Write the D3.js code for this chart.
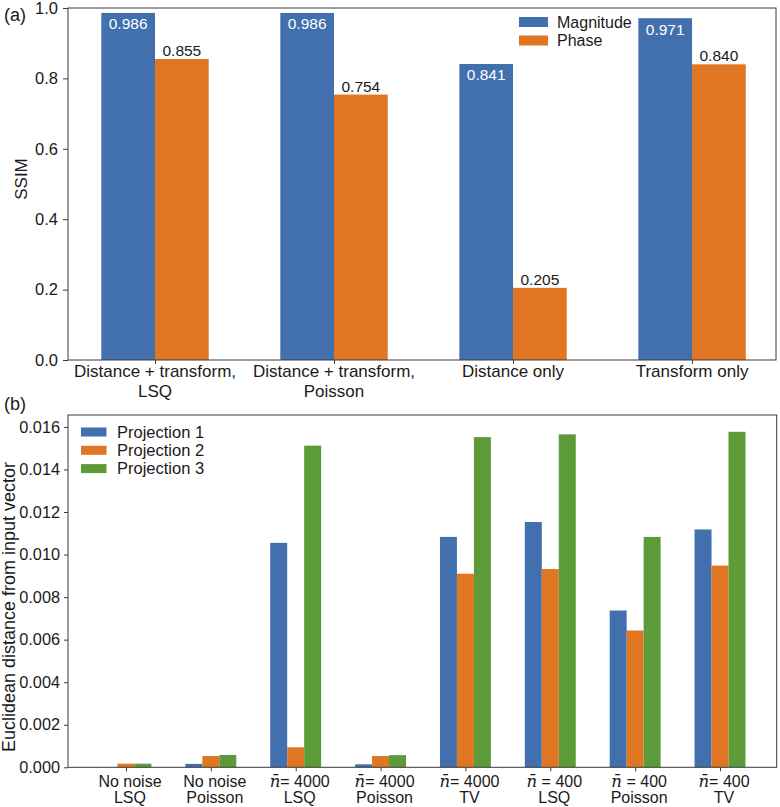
<!DOCTYPE html>
<html>
<head>
<meta charset="utf-8">
<script src="https://cdn.jsdelivr.net/npm/d3@7"></script>
<style>
  body { margin: 0; background: #fff; }
  svg { display: block; font-family: "Liberation Sans", Arial, Helvetica, sans-serif; }
</style>
</head>
<body>
<svg id="chart" width="780" height="807"></svg>
<script>
// ---------- Data: panel (a) ----------
const categoriesA = [["Distance + transform,", "LSQ"], ["Distance + transform,", "Poisson"], ["Distance only"], ["Transform only"]];
const magnitude = [0.986, 0.986, 0.841, 0.971];
const phase = [0.855, 0.754, 0.205, 0.840];
const seriesA = ["Magnitude", "Phase"];
const yTicksA = [0.0, 0.2, 0.4, 0.6, 0.8, 1.0];

// ---------- Data: panel (b) ----------
const categoriesB = [
  ["No noise", "LSQ"], ["No noise", "Poisson"],
  ["n̄= 4000", "LSQ"], ["n̄= 4000", "Poisson"], ["n̄= 4000", "TV"],
  ["n̄ = 400", "LSQ"], ["n̄ = 400", "Poisson"], ["n̄= 400", "TV"]
];
const projection1 = [0.00001, 0.00016, 0.01055, 0.00014, 0.01083, 0.01153, 0.00737, 0.01118];
const projection2 = [0.00017, 0.00053, 0.00094, 0.00053, 0.00910, 0.00932, 0.00643, 0.00948];
const projection3 = [0.00017, 0.00058, 0.01512, 0.00057, 0.01552, 0.01565, 0.01083, 0.01577];
const seriesB = ["Projection 1", "Projection 2", "Projection 3"];
const yTicksB = [0.000, 0.002, 0.004, 0.006, 0.008, 0.010, 0.012, 0.014, 0.016];

const colors = ["#426fae", "#e07522", "#5c9b37"];
const axisColor = "#3a3a3a";
const textColor = "#1a1a1a";

const svg = d3.select("#chart");

function styleAxis(g) {
  g.select(".domain").remove();
  g.selectAll(".tick line").attr("stroke", axisColor).attr("stroke-width", 1);
  g.selectAll(".tick text").attr("fill", textColor).attr("font-family", "'Liberation Sans', Arial, sans-serif");
}

// ================= Panel (a) =================
{
  const L = 68, R = 776, T = 8, B = 360;
  const x = d3.scaleLinear().domain([-0.486, 3.469]).range([L, R]);
  const y = d3.scaleLinear().domain([0, 1]).range([B, T]);
  const bw = 0.3;
  const g = svg.append("g");

  const data = [magnitude, phase];
  data.forEach((vals, s) => {
    g.append("g").selectAll("rect").data(vals).join("rect")
      .attr("x", (d, i) => x(i - bw + s * bw))
      .attr("width", x(bw) - x(0))
      .attr("y", d => y(d))
      .attr("height", d => y(0) - y(d))
      .attr("fill", colors[s]);
  });

  g.append("g").selectAll("text").data(magnitude).join("text")
    .attr("x", (d, i) => x(i - bw / 2))
    .attr("y", d => y(d) + 16.5)
    .attr("text-anchor", "middle")
    .attr("font-size", 15.5)
    .attr("fill", "#ffffff")
    .text(d => d3.format(".3f")(d));
  g.append("g").selectAll("text").data(phase).join("text")
    .attr("x", (d, i) => x(i + bw / 2))
    .attr("y", d => y(d) - 3)
    .attr("text-anchor", "middle")
    .attr("font-size", 15.5)
    .attr("fill", textColor)
    .text(d => d3.format(".3f")(d));

  const ya = g.append("g").attr("transform", `translate(${L},0)`)
    .call(d3.axisLeft(y).tickValues(yTicksA).tickFormat(d3.format(".1f")).tickSize(5).tickPadding(5));
  styleAxis(ya);
  ya.selectAll(".tick text").attr("font-size", 16.5);

  const xa = g.append("g").attr("transform", `translate(0,${B})`)
    .call(d3.axisBottom(x).tickValues(d3.range(categoriesA.length)).tickFormat("").tickSize(4));
  styleAxis(xa);
  const lab = g.append("g").selectAll("text").data(categoriesA).join("text")
    .attr("text-anchor", "middle")
    .attr("font-size", 17)
    .attr("fill", textColor)
    .attr("transform", (d, i) => `translate(${x(i)},${B + 17})`);
  lab.selectAll("tspan").data(d => d).join("tspan")
    .attr("x", 0).attr("y", (d, j) => j * 20).text(d => d);

  g.append("rect").attr("x", L).attr("y", T).attr("width", R - L).attr("height", B - T)
    .attr("fill", "none").attr("stroke", axisColor).attr("stroke-width", 1);

  g.append("text").attr("transform", `translate(27,179) rotate(-90)`)
    .attr("text-anchor", "middle").attr("font-size", 17).attr("fill", textColor).text("SSIM");

  svg.append("text").attr("x", 4).attr("y", 21).attr("font-size", 18).attr("fill", textColor).text("(a)");

  const lg = g.append("g").attr("transform", "translate(519,22)");
  seriesA.forEach((s, i) => {
    lg.append("rect").attr("x", 0).attr("y", i * 18.5 - 5).attr("width", 29).attr("height", 10).attr("fill", colors[i]);
    lg.append("text").attr("x", 38).attr("y", i * 18.5 + 5.5).attr("font-size", 16).attr("fill", textColor).text(s);
  });
}

// ================= Panel (b) =================
{
  const L = 68, R = 776.7, T = 415, B = 767.3;
  const x = d3.scaleLinear().domain([-0.683, 7.668]).range([L, R]);
  const y = d3.scaleLinear().domain([0, 0.01656]).range([B, T]);
  const bw = 0.2;
  const g = svg.append("g");

  const data = [projection1, projection2, projection3];
  data.forEach((vals, s) => {
    g.append("g").selectAll("rect").data(vals).join("rect")
      .attr("x", (d, i) => x(i - 1.5 * bw + s * bw))
      .attr("width", x(bw) - x(0))
      .attr("y", d => y(d))
      .attr("height", d => y(0) - y(d))
      .attr("fill", colors[s]);
  });

  const ya = g.append("g").attr("transform", `translate(${L},0)`)
    .call(d3.axisLeft(y).tickValues(yTicksB).tickFormat(d3.format(".3f")).tickSize(4).tickPadding(4));
  styleAxis(ya);
  ya.selectAll(".tick text").attr("font-size", 16.3);

  const xa = g.append("g").attr("transform", `translate(0,${B})`)
    .call(d3.axisBottom(x).tickValues(d3.range(categoriesB.length)).tickFormat("").tickSize(4));
  styleAxis(xa);

  const lab = g.append("g").selectAll("text").data(categoriesB).join("text")
    .attr("text-anchor", "middle")
    .attr("font-size", 16)
    .attr("fill", textColor)
    .attr("transform", (d, i) => `translate(${x(i) + 4},${B + 19.5})`);
  lab.each(function(lines) {
    const t = d3.select(this);
    lines.forEach((line, j) => {
      if (line.startsWith("n̄")) {
        t.append("tspan").attr("x", 0).attr("y", j * 16.5)
          .attr("font-family", "'DejaVu Serif', 'Liberation Serif', serif")
          .attr("font-style", "italic").attr("font-size", 16.5).text("n̄");
        t.append("tspan").text(line.slice(2));
      } else {
        t.append("tspan").attr("x", 0).attr("y", j * 16.5).text(line);
      }
    });
  });

  g.append("rect").attr("x", L).attr("y", T).attr("width", R - L).attr("height", B - T)
    .attr("fill", "none").attr("stroke", axisColor).attr("stroke-width", 1);

  g.append("text").attr("transform", `translate(15,607) rotate(-90)`)
    .attr("text-anchor", "middle").attr("font-size", 18).attr("fill", textColor)
    .text("Euclidean distance from input vector");

  svg.append("text").attr("x", 4).attr("y", 410).attr("font-size", 18).attr("fill", textColor).text("(b)");

  const lg = g.append("g").attr("transform", "translate(81,432)");
  seriesB.forEach((s, i) => {
    lg.append("rect").attr("x", 0).attr("y", i * 18.3 - 4.5).attr("width", 25.5).attr("height", 9).attr("fill", colors[i]);
    lg.append("text").attr("x", 36).attr("y", i * 18.3 + 5.5).attr("font-size", 16.5).attr("fill", textColor).text(s);
  });
}
</script>
</body>
</html>
